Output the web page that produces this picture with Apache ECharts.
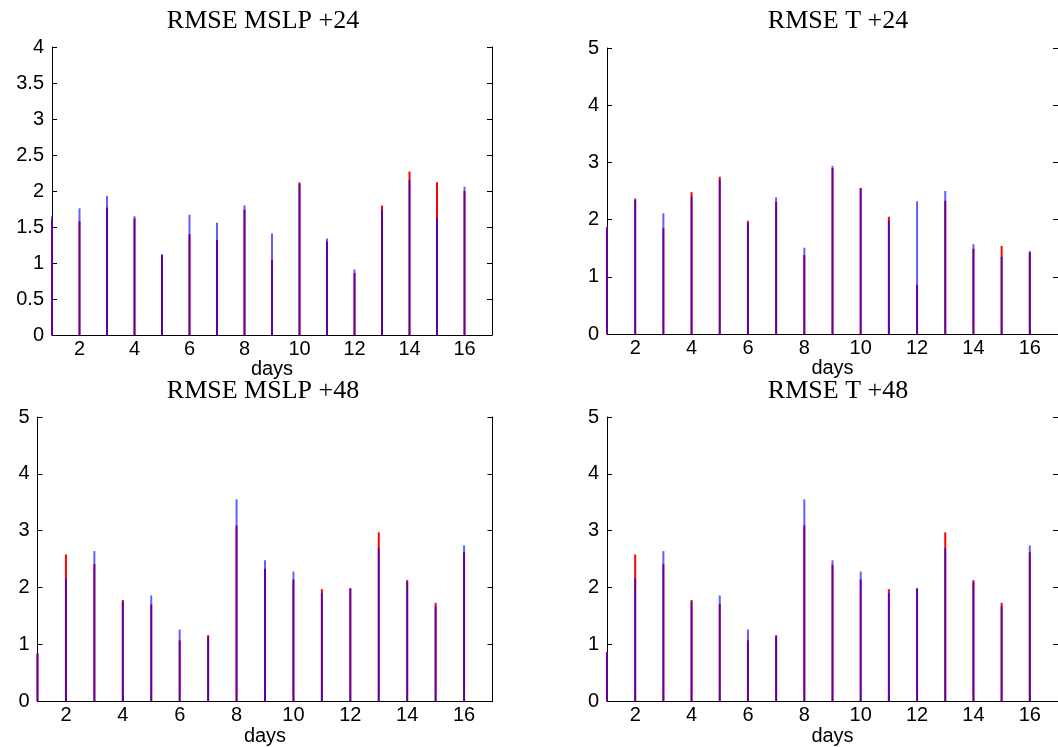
<!DOCTYPE html>
<html>
<head>
<meta charset="utf-8">
<script src="https://cdn.jsdelivr.net/npm/echarts@6/dist/echarts.min.js"></script>
<style>
html,body{margin:0;padding:0;background:#fff;}
#c{width:1058px;height:747px;}
</style>
</head>
<body>
<div id="c"></div>
<script>
// ---- data ----
var days = [1,2,3,4,5,6,7,8,9,10,11,12,13,14,15,16];
var xTickLabels = [2,4,6,8,10,12,14,16];
var titles = ['RMSE MSLP +24','RMSE T +24','RMSE MSLP +48','RMSE T +48'];
var xName = 'days';

var mslp24Red  = [1.60,1.58,1.77,1.62,1.11,1.40,1.32,1.74,1.04,2.12,1.30,0.86,1.80,2.27,2.12,2.00];
var mslp24Blue = [1.65,1.76,1.93,1.65,1.12,1.67,1.56,1.80,1.41,2.10,1.34,0.91,1.74,2.15,1.62,2.06];

var t24Red  = [1.86,2.35,1.85,2.48,2.75,1.98,2.31,1.38,2.90,2.55,2.05,0.86,2.33,1.49,1.54,1.43];
var t24Blue = [1.86,2.37,2.11,2.40,2.70,1.94,2.39,1.51,2.94,2.55,1.98,2.32,2.50,1.57,1.35,1.45];

var mslp48Red  = [0.84,2.58,2.41,1.78,1.70,1.07,1.16,3.09,2.33,2.14,1.97,1.98,2.97,2.13,1.73,2.62];
var mslp48Blue = [0.84,2.16,2.64,1.75,1.86,1.26,1.14,3.55,2.48,2.28,1.90,1.99,2.69,2.10,1.67,2.74];

var t48Red  = [0.86,2.58,2.41,1.78,1.71,1.07,1.16,3.09,2.40,2.14,1.97,1.98,2.97,2.13,1.73,2.62];
var t48Blue = [0.86,2.16,2.64,1.75,1.86,1.26,1.14,3.55,2.48,2.28,1.90,1.99,2.69,2.10,1.67,2.74];

var yMax = [4,5,5,5];
var yInterval = [0.5,1,1,1];

var panels = [
  {red: mslp24Red, blue: mslp24Blue},
  {red: t24Red, blue: t24Blue},
  {red: mslp48Red, blue: mslp48Blue},
  {red: t48Red, blue: t48Blue}
];

// ---- layout ----
var grids = [
  {left: 52,  top: 47,  width: 440, height: 288},
  {left: 607, top: 48,  width: 455, height: 286},
  {left: 37.5,top: 417, width: 455, height: 287},
  {left: 607, top: 417, width: 455, height: 287}
];
var titlePos = [
  {x: 258, y: 3}, {x: 833, y: 3}, {x: 258, y: 373}, {x: 833, y: 373}
];

var labelFont = {fontFamily: 'Liberation Sans, Arial, sans-serif', fontSize: 20, color: '#000'};
var lineStyle = {color: '#000', width: 1};

var option = {
  animation: false,
  backgroundColor: '#fff',
  title: titles.map(function(t, i){
    return {
      text: t, left: titlePos[i].x, top: titlePos[i].y, textAlign: 'center',
      textStyle: {fontFamily: 'Liberation Serif, Times New Roman, serif', fontSize: 26, fontWeight: 'normal', color: '#000'}
    };
  }),
  grid: grids.map(function(g){ return Object.assign({containLabel: false}, g); }),
  xAxis: [],
  yAxis: [],
  series: []
};

for (var i = 0; i < 4; i++) {
  option.xAxis.push({
    type: 'value', gridIndex: i, min: 1, max: 17, position: 'bottom',
    name: xName, nameLocation: 'middle', nameGap: 12,
    nameTextStyle: labelFont,
    axisLine: {show: true, onZero: false, lineStyle: lineStyle},
    axisTick: {show: true, inside: true, length: 5, lineStyle: lineStyle, customValues: xTickLabels},
    axisLabel: Object.assign({margin: 4, customValues: xTickLabels}, labelFont),
    splitLine: {show: false}
  });
  option.yAxis.push({
    type: 'value', gridIndex: i, min: 0, max: yMax[i], interval: yInterval[i], position: 'left',
    axisLine: {show: true, lineStyle: lineStyle},
    axisTick: {show: true, inside: true, length: 5, lineStyle: lineStyle},
    axisLabel: Object.assign({margin: 8}, labelFont),
    splitLine: {show: false}
  });
  option.yAxis.push({
    type: 'value', gridIndex: i, min: 0, max: yMax[i], interval: yInterval[i], position: 'right',
    axisLine: {show: true, lineStyle: lineStyle},
    axisTick: {show: true, inside: true, length: 5, lineStyle: lineStyle},
    axisLabel: {show: false},
    splitLine: {show: false}
  });
  var redData = days.map(function(d, k){ return [d, panels[i].red[k]]; });
  var blueData = days.map(function(d, k){ return [d, panels[i].blue[k]]; });
  option.series.push({
    type: 'bar', xAxisIndex: i, yAxisIndex: 2*i, data: redData,
    barWidth: 2, barGap: '-100%', itemStyle: {color: '#ff0000'}, silent: true
  });
  option.series.push({
    type: 'bar', xAxisIndex: i, yAxisIndex: 2*i, data: blueData,
    barWidth: 2, barGap: '-100%', itemStyle: {color: 'rgba(0,0,255,0.62)'}, silent: true
  });
}

var chart = echarts.init(document.getElementById('c'), null, {renderer: 'canvas'});
chart.setOption(option);
</script>
</body>
</html>
